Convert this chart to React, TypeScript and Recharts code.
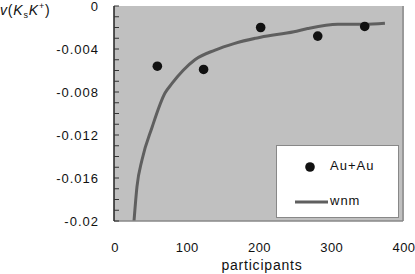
import React from 'react';
import { ComposedChart, XAxis, YAxis, Scatter, Line, ReferenceArea, ReferenceLine } from 'recharts';

const xTicks = [0, 100, 200, 300, 400];
const xTopTicks = [100, 200, 300];
const yMajorTicks = [0, -0.004, -0.008, -0.012, -0.016, -0.02];
const yAllTicks = [0, -0.001, -0.002, -0.003, -0.004, -0.005, -0.006, -0.007, -0.008, -0.009, -0.01, -0.011, -0.012, -0.013, -0.014, -0.015, -0.016, -0.017, -0.018, -0.019, -0.02];

const auParticipants = [60, 124, 203, 282, 347];
const auValues = [-0.0056, -0.0059, -0.0020, -0.0028, -0.0019];

const wnmParticipants = [27.7, 31.8, 38.8, 52.6, 70.6, 80.3, 95.5, 112, 140, 166, 203, 249, 268, 310, 346, 375];
const wnmValues = [-0.02, -0.0168, -0.0143, -0.0113, -0.0081, -0.0072, -0.006, -0.005, -0.0041, -0.0035, -0.0029, -0.0024, -0.0021, -0.0017, -0.0017, -0.0016];

const auData = auParticipants.map((x, i) => ({ x, y: auValues[i] }));
const wnmData = wnmParticipants.map((x, i) => ({ x, y: wnmValues[i] }));

const FONT = '"Liberation Sans", Arial, sans-serif';

const YTick = (props: any) => {
  const { x, y, payload } = props;
  const v = payload.value;
  const major = yMajorTicks.some((t) => Math.abs(t - v) < 1e-9);
  return (
    <g>
      <line x1={x} x2={x + 5} y1={y} y2={y} stroke="#333" strokeWidth={1} />
      {major && (
        <text x={x - 15} y={y} dy={4.7} textAnchor="end" fontSize={13} letterSpacing={1} fill="#111" fontFamily={FONT}>
          {String(v)}
        </text>
      )}
    </g>
  );
};

const XTick = (props: any) => {
  const { x, y, payload } = props;
  return (
    <text x={x + 1} y={y + 31} textAnchor="middle" fontSize={13} letterSpacing={0.4} fill="#111" fontFamily={FONT}>
      {String(payload.value)}
    </text>
  );
};

const TopTick = (props: any) => {
  const { x, y } = props;
  return <line x1={x} x2={x} y1={y} y2={y + 5} stroke="#333" strokeWidth={1} />;
};

export default function App() {
  return (
    <div style={{ position: 'absolute', left: 0, top: 0, width: 415, height: 274, background: '#fff', fontFamily: FONT }}>
      <ComposedChart width={415} height={274} margin={{ top: 6, right: 12, left: 0, bottom: 0 }}>
        <XAxis
          dataKey="x"
          type="number"
          domain={[0, 400]}
          ticks={xTicks}
          allowDataOverflow
          height={53}
          tickSize={0}
          tickMargin={0}
          tickLine={false}
          axisLine={{ stroke: '#888', strokeWidth: 1.5 }}
          tick={<XTick />}
          interval={0}
        />
        <XAxis
          xAxisId="top"
          orientation="top"
          type="number"
          domain={[0, 400]}
          ticks={xTopTicks}
          height={0}
          tickSize={0}
          tickMargin={0}
          tickLine={false}
          axisLine={{ stroke: '#222', strokeWidth: 1.5 }}
          tick={<TopTick />}
          interval={0}
        />
        <YAxis
          type="number"
          domain={[-0.02, 0]}
          ticks={yAllTicks}
          allowDataOverflow
          width={114}
          tickSize={0}
          tickMargin={0}
          tickLine={false}
          axisLine={{ stroke: '#222', strokeWidth: 1.5 }}
          tick={<YTick />}
          interval={0}
        />
        <ReferenceArea x1={0} x2={400} y1={-0.02} y2={0} fill="#c0c0c0" fillOpacity={1} stroke="none" ifOverflow="visible" />
        <ReferenceLine x={400} stroke="#999" strokeWidth={2} ifOverflow="visible" />
        <Line
          data={wnmData}
          dataKey="y"
          type="monotone"
          stroke="#5f5f5f"
          strokeWidth={3}
          dot={false}
          isAnimationActive={false}
        />
        <Scatter data={auData} dataKey="y" fill="#111" shape={(p: any) => <circle cx={p.cx} cy={p.cy} r={4.8} fill="#111" />} isAnimationActive={false} />
      </ComposedChart>
      <div style={{ position: 'absolute', left: 0, top: 1, fontSize: 14, letterSpacing: 0.8, color: '#111', fontFamily: FONT, whiteSpace: 'nowrap' }}>
        <i>v</i>(<i>K</i><sub style={{ fontSize: 9 }}>s</sub><i>K</i><sup style={{ fontSize: 9 }}>+</sup>)
      </div>
      <div style={{ position: 'absolute', left: 0, width: 524, top: 257, textAlign: 'center', fontSize: 14, letterSpacing: 0.8, color: '#111', fontFamily: FONT, lineHeight: '16px' }}>
        participants
      </div>
      <div style={{ position: 'absolute', left: 276, top: 145, width: 121, height: 71, background: '#fff', border: '1px solid #888', fontFamily: FONT, fontSize: 13, letterSpacing: 1, color: '#111' }}>
        <svg width={30} height={20} style={{ position: 'absolute', left: 18, top: 11 }}>
          <circle cx={15} cy={10} r={4.8} fill="#111" />
        </svg>
        <div style={{ position: 'absolute', left: 53, top: 12 }}>Au+Au</div>
        <svg width={34} height={10} style={{ position: 'absolute', left: 18, top: 51 }}>
          <line x1={0} x2={33} y1={5} y2={5} stroke="#5f5f5f" strokeWidth={3} />
        </svg>
        <div style={{ position: 'absolute', left: 53, top: 47 }}>wnm</div>
      </div>
    </div>
  );
}
